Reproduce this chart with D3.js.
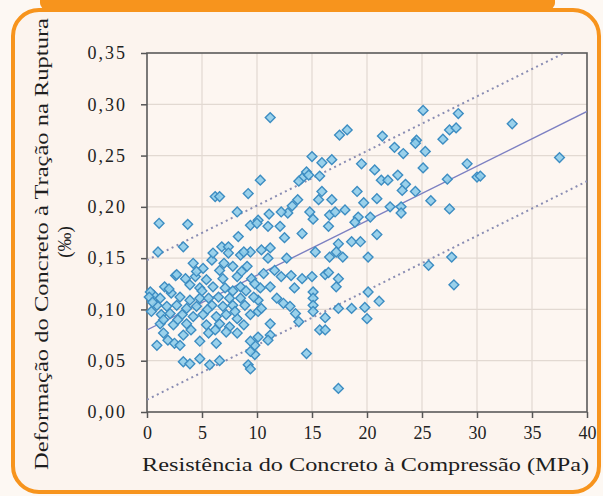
<!DOCTYPE html>
<html>
<head>
<meta charset="utf-8">
<script src="https://cdn.jsdelivr.net/npm/d3@7.9.0/dist/d3.min.js"></script>
<style>
  html, body { margin: 0; padding: 0; background: #fdf8f3; }
  svg { display: block; }
  .tick text { font-family: 'Liberation Serif', 'DejaVu Serif', serif; fill: #222; }
</style>
</head>
<body>
<svg id="chart" width="603" height="496"></svg>
<script>
// compressive strength (MPa) and tensile strain at rupture (‰)
const strength = [
  25.1, 28.3, 33.2, 21.4, 27.5, 28.1, 26.9, 24.5, 24.4, 22.5, 23.3, 25.3, 37.5, 20.7, 25.1, 29.1,
  21.3, 21.9, 22.8, 23.5, 23.2, 24.4, 27.3, 30.0, 30.3, 20.9, 22.1, 23.1, 23.1, 25.8, 27.5, 20.3,
  20.9, 20.1, 25.6, 27.7, 27.9, 20.1, 21.1, 19.8, 20.0,
  11.2, 17.5, 18.2, 15.0, 15.9, 16.8, 19.5, 10.3, 14.5, 14.1, 14.7, 15.7, 13.8, 15.9, 15.6, 16.8,
  19.1, 19.7, 13.7, 13.2, 12.8, 12.2, 11.1, 10.1, 14.8, 15.1, 16.6, 17.1, 18.0, 19.2, 16.5, 18.9,
  11.0, 12.1, 14.1, 12.5, 17.4, 18.6, 19.4,
  10.4, 11.2, 11.0, 12.7, 15.3, 16.6, 17.2, 17.8, 11.6, 12.2, 13.1, 14.1, 15.0, 16.2, 16.5, 17.4,
  17.2, 10.3, 11.2, 13.4, 15.1, 15.1, 15.1, 15.1, 11.8, 12.4, 13.0, 13.5, 13.8, 10.1, 10.1, 10.4,
  11.2, 11.2, 11.0, 10.1, 9.8, 9.8, 16.2, 15.7, 16.2, 17.4, 18.6, 14.5, 17.4,
  6.2, 6.6, 9.2, 8.2, 1.1, 3.7, 9.4, 10.0, 8.3, 6.8, 7.4, 3.3,
  1.0, 7.4, 8.5, 9.4, 5.9, 5.1, 6.6, 7.8, 9.1, 2.6, 4.4, 5.4, 6.9, 8.2, 9.5, 1.6,
  3.9, 4.8, 6.0, 7.1, 8.5, 0.6, 1.2, 2.2, 3.0, 3.9, 4.8, 5.6, 6.5, 7.5, 8.5, 9.7,
  0.9, 1.8, 2.7, 3.6, 4.5, 5.9, 6.9, 7.8, 8.9, 0.4, 1.3, 2.1, 3.2, 4.2, 5.1, 6.3,
  7.2, 8.2, 9.4, 1.2, 2.4, 3.6, 5.4, 6.6, 7.5, 8.8, 1.5, 3.3, 5.6, 7.2, 8.2, 1.9,
  2.5, 3.0, 4.8, 6.3, 9.4, 0.9, 9.4, 3.3, 3.9, 4.8, 5.7, 6.6, 9.2, 9.4, 0.3, 2.7, 8.8,
  0.2, 0.5, 1.5, 2.0, 2.8, 4.0, 4.5, 5.0, 5.5, 6.2, 7.0, 7.8, 8.0, 9.0, 9.8, 10.6, 4.2, 3.5, 8.6, 6.0
];
const strain = [
  0.294, 0.291, 0.281, 0.269, 0.275, 0.277, 0.266, 0.265, 0.262, 0.258, 0.252, 0.254, 0.248, 0.236, 0.238, 0.242,
  0.226, 0.226, 0.231, 0.222, 0.216, 0.215, 0.227, 0.229, 0.230, 0.208, 0.200, 0.200, 0.194, 0.206, 0.198, 0.190,
  0.173, 0.151, 0.143, 0.151, 0.124, 0.117, 0.108, 0.102, 0.091,
  0.287, 0.270, 0.275, 0.249, 0.243, 0.246, 0.242, 0.226, 0.234, 0.228, 0.231, 0.230, 0.225, 0.215, 0.207, 0.207,
  0.215, 0.204, 0.207, 0.201, 0.194, 0.195, 0.193, 0.187, 0.195, 0.188, 0.192, 0.195, 0.197, 0.190, 0.181, 0.185,
  0.181, 0.181, 0.174, 0.170, 0.164, 0.166, 0.166,
  0.158, 0.160, 0.150, 0.150, 0.156, 0.151, 0.156, 0.151, 0.138, 0.132, 0.133, 0.130, 0.132, 0.134, 0.136, 0.130,
  0.122, 0.121, 0.122, 0.121, 0.117, 0.111, 0.104, 0.098, 0.111, 0.106, 0.103, 0.096, 0.088, 0.109, 0.098, 0.101,
  0.086, 0.075, 0.070, 0.073, 0.065, 0.056, 0.092, 0.080, 0.080, 0.101, 0.101, 0.057, 0.023,
  0.210, 0.210, 0.213, 0.195, 0.184, 0.183, 0.182, 0.184, 0.171, 0.161, 0.161, 0.161,
  0.156, 0.155, 0.153, 0.156, 0.148, 0.140, 0.138, 0.142, 0.142, 0.133, 0.132, 0.129, 0.130, 0.132, 0.130, 0.122,
  0.124, 0.121, 0.122, 0.121, 0.122, 0.114, 0.111, 0.116, 0.112, 0.109, 0.111, 0.111, 0.112, 0.111, 0.111, 0.112,
  0.104, 0.103, 0.104, 0.101, 0.103, 0.104, 0.103, 0.104, 0.104, 0.098, 0.095, 0.096, 0.095, 0.093, 0.095, 0.093,
  0.095, 0.091, 0.095, 0.086, 0.085, 0.086, 0.085, 0.086, 0.083, 0.085, 0.077, 0.075, 0.077, 0.078, 0.077, 0.070,
  0.067, 0.065, 0.069, 0.067, 0.069, 0.065, 0.059, 0.049, 0.047, 0.052, 0.046, 0.050, 0.046, 0.042, 0.117, 0.134, 0.156,
  0.112, 0.107, 0.090, 0.120, 0.090, 0.080, 0.137, 0.118, 0.100, 0.080, 0.145, 0.118, 0.098, 0.118, 0.125, 0.135, 0.145, 0.130, 0.137, 0.155
];

// regression line and the two dotted band lines, end points at x = 0 and x = 40
const fitX = [0, 40];
const fitMid = [0.080, 0.293];
const fitUpper = [0.148, 0.361];
const fitLower = [0.012, 0.225];

const xTicks = [0, 5, 10, 15, 20, 25, 30, 35, 40];
const yTicks = [0, 0.05, 0.10, 0.15, 0.20, 0.25, 0.30, 0.35];

const svg = d3.select('#chart');

// orange frame
svg.append('rect')
  .attr('x', 40).attr('y', -10).attr('width', 515).attr('height', 19)
  .attr('rx', 6).attr('fill', '#f7941d');
svg.append('rect')
  .attr('x', 13).attr('y', 10).attr('width', 586).attr('height', 482)
  .attr('rx', 26)
  .attr('fill', '#fcf4ee')
  .attr('stroke', '#f7941d')
  .attr('stroke-width', 4);

const x = d3.scaleLinear().domain([0, 40]).range([147, 587]);
const y = d3.scaleLinear().domain([0, 0.35]).range([412, 53]);

svg.append('defs').append('clipPath').attr('id', 'plot-clip')
  .append('rect')
  .attr('x', x(0)).attr('y', y(0.35))
  .attr('width', x(40) - x(0)).attr('height', y(0) - y(0.35));

svg.append('rect')
  .attr('x', x(0)).attr('y', y(0.35))
  .attr('width', x(40) - x(0)).attr('height', y(0) - y(0.35))
  .attr('fill', '#fdf6f1');

// grid
const grid = svg.append('g').attr('stroke', '#e2d9d2').attr('stroke-width', 1.2);
xTicks.slice(1, -1).forEach((t) => {
  grid.append('line').attr('x1', x(t)).attr('x2', x(t)).attr('y1', y(0)).attr('y2', y(0.35));
});
yTicks.slice(1, -1).forEach((t) => {
  grid.append('line').attr('x1', x(0)).attr('x2', x(40)).attr('y1', y(t)).attr('y2', y(t));
});

const fmt = (d) => d3.format('.2f')(d).replace('.', ',');

const xAxis = svg.append('g')
  .attr('transform', `translate(0,${y(0)})`)
  .call(d3.axisBottom(x).tickValues(xTicks).tickSize(6).tickSizeOuter(0).tickPadding(8));
const yAxis = svg.append('g')
  .attr('transform', `translate(${x(0)},0)`)
  .call(d3.axisLeft(y).tickValues(yTicks).tickFormat(fmt).tickSize(6).tickSizeOuter(0).tickPadding(14));

[xAxis, yAxis].forEach((g) => {
  g.select('.domain').remove();
  g.selectAll('.tick line').attr('stroke', '#555').attr('stroke-width', 1.5);
  g.selectAll('.tick text').attr('font-size', 18);
});
yAxis.selectAll('.tick text').attr('letter-spacing', 2);

// frame box
svg.append('rect')
  .attr('x', x(0)).attr('y', y(0.35))
  .attr('width', x(40) - x(0)).attr('height', y(0) - y(0.35))
  .attr('fill', 'none').attr('stroke', '#5a5a5a').attr('stroke-width', 1.6);

// fit lines
const line = d3.line().x((d) => x(d[0])).y((d) => y(d[1]));
const lines = svg.append('g').attr('clip-path', 'url(#plot-clip)').attr('fill', 'none');
lines.append('path')
  .attr('d', line(d3.zip(fitX, fitUpper)))
  .attr('stroke', '#8a8db3').attr('stroke-width', 2).attr('stroke-dasharray', '2,3.5');
lines.append('path')
  .attr('d', line(d3.zip(fitX, fitLower)))
  .attr('stroke', '#8a8db3').attr('stroke-width', 2).attr('stroke-dasharray', '2,3.5');

// points
const diamond = d3.symbol().type(d3.symbolSquare).size(48);
svg.append('g')
  .selectAll('path')
  .data(d3.zip(strength, strain))
  .join('path')
  .attr('d', diamond)
  .attr('transform', (d) => `translate(${x(d[0])},${y(d[1])}) rotate(45)`)
  .attr('fill', '#8fcdea')
  .attr('fill-opacity', 0.9)
  .attr('stroke', '#3d8dc2')
  .attr('stroke-width', 1.4);

lines.append('path')
  .attr('d', line(d3.zip(fitX, fitMid)))
  .attr('stroke', '#7d80c2').attr('stroke-width', 1.4);

// axis titles
svg.append('text')
  .attr('x', 142).attr('y', 471)
  .attr('textLength', 447).attr('lengthAdjust', 'spacingAndGlyphs')
  .attr('font-family', "'Liberation Serif', serif").attr('font-size', 19)
  .attr('fill', '#1e1e1e')
  .text('Resistência do Concreto à Compressão (MPa)');

svg.append('text')
  .attr('transform', 'translate(48,470) rotate(-90)')
  .attr('textLength', 452).attr('lengthAdjust', 'spacingAndGlyphs')
  .attr('font-family', "'Liberation Serif', serif").attr('font-size', 19)
  .attr('fill', '#1e1e1e')
  .text('Deformação do Concreto à Tração na Ruptura');

svg.append('text')
  .attr('transform', 'translate(71,242) rotate(-90)')
  .attr('text-anchor', 'middle')
  .attr('font-family', "'Liberation Serif', serif").attr('font-size', 19)
  .attr('fill', '#1e1e1e')
  .text('(‰)');
</script>
</body>
</html>
